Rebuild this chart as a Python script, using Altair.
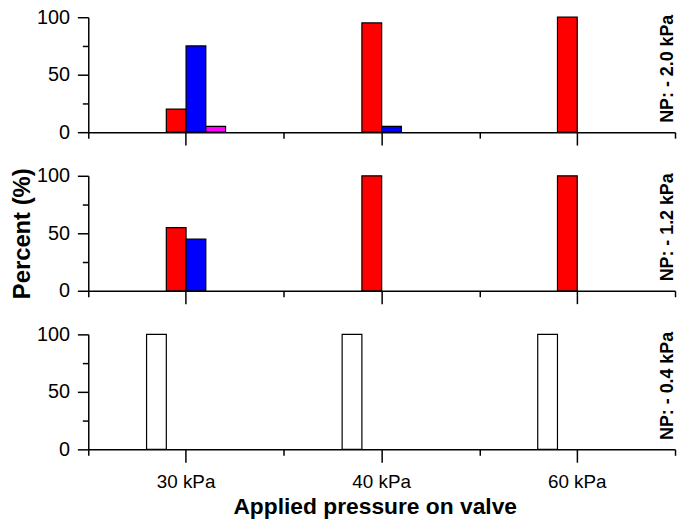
import altair as alt
import pandas as pd

FONT = "Liberation Sans"

categories = ["30 kPa", "40 kPa", "60 kPa"]
series = ["Series 1", "Series 2", "Series 3", "Series 4"]
series_colors = ["#FFFFFF", "#FF0000", "#0000FF", "#FF00FF"]
panel_labels = ["NP: - 2.0 kPa", "NP: - 1.2 kPa", "NP: - 0.4 kPa"]

# values per series, listed for 30 / 40 / 60 kPa
np20_series1 = [0, 0, 0]
np20_series2 = [20, 95, 100]
np20_series3 = [75, 5, 0]
np20_series4 = [5, 0, 0]

np12_series1 = [0, 0, 0]
np12_series2 = [55, 100, 100]
np12_series3 = [45, 0, 0]
np12_series4 = [0, 0, 0]

np04_series1 = [100, 100, 100]
np04_series2 = [0, 0, 0]
np04_series3 = [0, 0, 0]
np04_series4 = [0, 0, 0]

panel_values = [
    [np20_series1, np20_series2, np20_series3, np20_series4],
    [np12_series1, np12_series2, np12_series3, np12_series4],
    [np04_series1, np04_series2, np04_series3, np04_series4],
]

PW = 592
PH = 116


def make_panel(idx):
    rows = []
    for s, vals in zip(series, panel_values[idx]):
        for c, v in zip(categories, vals):
            if v > 0:
                rows.append({"category": c, "series": s, "value": v})
    d = pd.DataFrame(rows)
    bottom = idx == 2

    x_axis = alt.Axis(
        orient="bottom",
        labels=bottom,
        title="Applied pressure on valve" if bottom else None,
        tickSize=13,
        tickWidth=1.5,
        tickColor="black",
        domainColor="black",
        domainWidth=1.5,
        labelFont=FONT,
        labelFontSize=19,
        labelColor="black",
        labelPadding=10,
        labelAngle=0,
        titleFont=FONT,
        titleFontSize=23,
        titleFontWeight="bold",
        titleColor="black",
        titlePadding=5,
        titleX=289,
        grid=False,
    )
    y_axis = alt.Axis(
        values=[0, 25, 50, 75, 100],
        labelExpr="datum.value % 50 === 0 ? datum.label : ''",
        tickSize={"condition": {"test": "datum.value % 50 === 0", "value": 11}, "value": 6},
        tickWidth=1.5,
        tickColor="black",
        domainColor="black",
        domainWidth=1.5,
        labelFont=FONT,
        labelFontSize=20,
        labelColor="black",
        labelPadding=8,
        title="Percent (%)" if idx == 1 else None,
        titleFont=FONT,
        titleFontSize=24,
        titleFontWeight="bold",
        titleColor="black",
        titlePadding=2,
        grid=False,
    )

    bars = alt.Chart(d).mark_bar(stroke="black", strokeWidth=1.2).encode(
        x=alt.X(
            "category:N",
            sort=categories,
            scale=alt.Scale(domain=categories, paddingInner=0.596, paddingOuter=0.298),
            axis=x_axis,
        ),
        xOffset=alt.XOffset(
            "series:N", scale=alt.Scale(domain=series, paddingInner=0, paddingOuter=0)
        ),
        y=alt.Y("value:Q", scale=alt.Scale(domain=[0, 100], nice=False), axis=y_axis),
        color=alt.Color(
            "series:N", scale=alt.Scale(domain=series, range=series_colors), legend=None
        ),
    )

    minor = alt.Chart(pd.DataFrame({"category": categories})).mark_point(opacity=0).encode(
        x=alt.X(
            "category:N",
            sort=categories,
            scale=alt.Scale(domain=categories, paddingInner=0, paddingOuter=0),
            axis=alt.Axis(
                orient="bottom",
                tickBand="extent",
                labels=False,
                domain=False,
                tickSize=6,
                tickWidth=1.5,
                tickColor="black",
                title=None,
                grid=False,
            ),
        )
    )

    label = alt.Chart(pd.DataFrame({"label": [panel_labels[idx]]})).mark_text(
        angle=270,
        font=FONT,
        fontSize=18,
        fontWeight="bold",
        color="black",
        align="center",
        baseline="alphabetic",
    ).encode(text="label:N", x=alt.value(590), y=alt.value(52))

    return (
        alt.layer(bars, minor, label)
        .resolve_scale(x="independent")
        .resolve_axis(x="independent")
        .properties(width=PW, height=PH)
    )


chart = (
    alt.vconcat(make_panel(0), make_panel(1), make_panel(2), spacing=44, bounds="flush")
    .properties(padding={"left": 2, "top": -3, "right": 0, "bottom": 0})
    .configure_view(stroke=None)
)

chart.save("out.html", embed_options={"renderer": "svg", "actions": False})
